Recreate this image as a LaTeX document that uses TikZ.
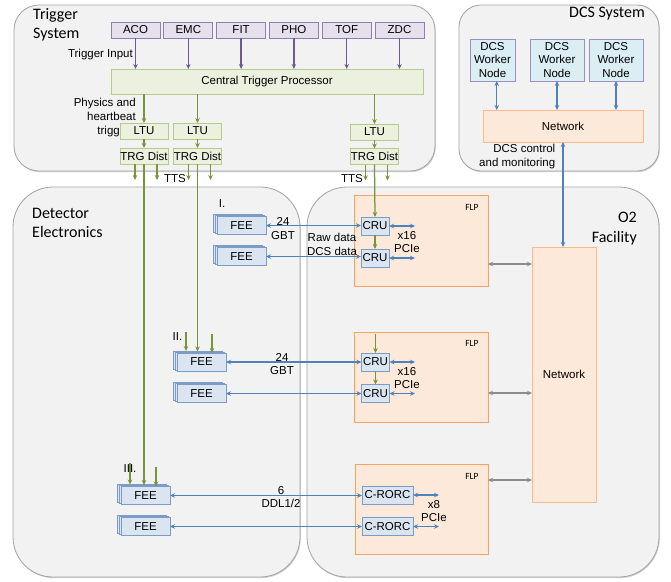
\documentclass[tikz,border=0pt]{standalone}
\usepackage{fontspec}
\setmainfont{Liberation Sans}
\newfontfamily\titlefont{Carlito}
\usetikzlibrary{arrows.meta,shadows,calc}

\definecolor{panelfill}{HTML}{F2F2F2}
\definecolor{panelline}{HTML}{A3A3A3}
\definecolor{inputfill}{HTML}{E5E0EC}
\definecolor{inputline}{HTML}{8F7DB5}
\definecolor{trigfill}{HTML}{EBF1DE}
\definecolor{trigline}{HTML}{B5CB8C}
\definecolor{wnfill}{HTML}{DBEEF4}
\definecolor{wnline}{HTML}{9A90C4}
\definecolor{orfill}{HTML}{FDE9D9}
\definecolor{orline}{HTML}{F5A263}
\definecolor{netline}{HTML}{F8BA8C}
\definecolor{cardfill}{HTML}{DBE5F1}
\definecolor{cardline}{HTML}{7C9CC8}
\definecolor{arrgreen}{HTML}{77933C}
\definecolor{arrblue}{HTML}{4F81BD}
\definecolor{arrpurple}{HTML}{6F5A90}
\definecolor{arrgray}{HTML}{8C8C8C}

\begin{document}
\begin{tikzpicture}[x=1pt,y=-1pt,
  font=\fontsize{11.5}{13.5}\selectfont,
  sz/.style 2 args={minimum width=#1pt,minimum height=#2pt},
  panel/.style={draw=panelline, fill=panelfill, line width=0.8pt,
    rounded corners=#1, inner sep=0pt, outer sep=0pt, anchor=north west,
    drop shadow={shadow xshift=0.8pt,shadow yshift=-1.2pt,opacity=0.3,fill=black!60}},
  boxbase/.style={draw, line width=0.8pt, inner sep=0pt, outer sep=0pt, align=center},
  inbox/.style={boxbase, draw=inputline, fill=inputfill, sz={49}{16}},
  trgbox/.style={boxbase, draw=trigline, fill=trigfill},
  wnbox/.style={boxbase, draw=wnline, fill=wnfill, font=\fontsize{11.5}{13.5}\selectfont},
  netbox/.style={boxbase, draw=netline, fill=orfill},
  flpbox/.style={boxbase, draw=orline, fill=orfill},
  cardbox/.style={boxbase, draw=cardline, fill=cardfill},
  feebox/.style={cardbox, sz={49}{18},
    double copy shadow={shadow xshift=-1.6pt,shadow yshift=1pt}},
  title/.style={font=\titlefont\fontsize{16}{19.5}\selectfont, inner sep=0pt},
  lbl/.style={inner sep=0pt, align=center},
  flplabel/.style={font=\titlefont\fontsize{9.5}{11}\selectfont, inner sep=0pt},
  garrow/.style={draw=arrgreen, line width=1.25pt, -{Stealth[length=5pt,width=4.5pt]}},
  parrow/.style={draw=arrpurple, line width=1.25pt, -{Stealth[length=5pt,width=4.5pt]}},
  barrow/.style={draw=arrblue, line width=1.25pt,
    {Stealth[length=5pt,width=4.5pt]}-{Stealth[length=5pt,width=4.5pt]}},
  grarrow/.style={draw=arrgray, line width=1.25pt,
    {Stealth[length=5pt,width=4.5pt]}-{Stealth[length=5pt,width=4.5pt]}},
]
\useasboundingbox (0,0) rectangle (671,581);

% ---------- panels ----------
\node[panel=25pt, sz={421}{166}] (trigsys) at (14,5) {};
\node[panel=22pt, sz={200}{166}] (dcssys) at (459,5) {};
\node[panel=40pt, sz={287}{390}] (detsys) at (13,187) {};
\node[panel=40pt, sz={352}{390}] (o2sys) at (307,187) {};

\node[title, anchor=north west, align=left] (trigtitle) at (33,8) {Trigger\\System};
\node[title, anchor=base east] (dcstitle) at (645,17) {DCS System};
\node[title, anchor=north west, align=left] (dettitle) at (32,208) {Detector\\Electronics};
\node[title, anchor=north east, align=right] (o2title) at (637,212) {O2\\Facility};

% ---------- trigger system ----------
\foreach \n/\t/\x in {aco/ACO/135.5, emc/EMC/188.3, fit/FIT/241.1,
                      pho/PHO/293.9, tof/TOF/346.7, zdc/ZDC/399.5}
  \node[inbox] (\n) at (\x,30) {\t};

\node[trgbox, sz={312}{25}] (ctp) at (267,81.5) {Central Trigger Processor};

\foreach \n in {aco,emc,fit,pho,tof,zdc}
  \draw[parrow] (\n.south) -- (\n.south |- ctp.north);

\node[lbl, anchor=base east] (trigin) at (133,57) {Trigger Input};
\node[lbl, anchor=north east, align=right, font=\fontsize{11.5}{14}\selectfont]
  (physlbl) at (136,97.5) {Physics and\\heartbeat\\triggers};

\node[trgbox, sz={48}{16}] (ltu1) at (144,131) {LTU};
\node[trgbox, sz={48}{16}] (ltu2) at (197.5,131) {LTU};
\node[trgbox, sz={48}{16}] (ltu3) at (374.5,132) {LTU};
\node[trgbox, sz={48}{16}] (trg1) at (144,156) {TRG Dist};
\node[trgbox, sz={48}{16}] (trg2) at (197.5,156) {TRG Dist};
\node[trgbox, sz={48}{16}] (trg3) at (374.5,156.5) {TRG Dist};

\foreach \i in {1,2,3} {
  \draw[garrow] (ctp.south -| ltu\i.north) -- (ltu\i.north);
  \draw[garrow] (ltu\i.south) -- (trg\i.north);
  \draw[garrow] ([xshift=-9pt]trg\i.south) -- ++(0,16);
  \draw[garrow] ([xshift=13pt]trg\i.south) -- ++(0,16);
}
\node[lbl] (tts1) at (175,179) {TTS};
\node[lbl] (tts2) at (352,179) {TTS};

% ---------- DCS system ----------
\node[wnbox, sz={45}{42}] (wn1) at (492.5,60) {DCS\\Worker\\Node};
\node[wnbox, sz={54}{42}] (wn2) at (557,60) {DCS\\Worker\\Node};
\node[wnbox, sz={54}{42}] (wn3) at (616,60) {DCS\\Worker\\Node};
\node[netbox, sz={160}{32}] (dcsnet) at (563,126) {Network};

\draw[barrow] ([xshift=4.2pt]wn1.south) -- ([xshift=4.2pt]wn1.south |- dcsnet.north);
\draw[barrow] (wn2.south) -- (wn2.south |- dcsnet.north);
\draw[barrow] (wn3.south) -- (wn3.south |- dcsnet.north);

\node[lbl, anchor=north east, align=right, font=\fontsize{11.5}{14}\selectfont]
  (dcsctl) at (555.5,144) {DCS control\\and monitoring};

% ---------- O2 facility ----------
\node[flpbox, sz={134}{91}] (flp1) at (421,240.5) {};
\node[flpbox, sz={134}{90}] (flp2) at (421,377) {};
\node[flpbox, sz={133}{90}] (flp3) at (421.5,509) {};
\node[flplabel] (flpl1) at (472,207) {FLP};
\node[flplabel] (flpl2) at (472,343) {FLP};
\node[flplabel] (flpl3) at (472,476) {FLP};

\node[netbox, sz={64}{255}] (onet) at (564,374.5) {Network};

\node[cardbox, sz={28}{18}] (cru1) at (375,226) {CRU};
\node[cardbox, sz={28}{18}] (cru2) at (375,258) {CRU};
\node[cardbox, sz={28}{18}] (cru3) at (375.5,362) {CRU};
\node[cardbox, sz={28}{18}] (cru4) at (375.5,393.5) {CRU};
\node[cardbox, sz={51}{18}] (rorc1) at (387.5,495) {C-RORC};
\node[cardbox, sz={51}{18}] (rorc2) at (387.5,526.5) {C-RORC};

\coordinate (pcieend) at (415,0);
\coordinate (rorcend) at (439,0);
\foreach \n in {cru1,cru2,cru3,cru4}
  \draw[barrow] (\n.east) -- (\n.east -| pcieend);
\foreach \n in {rorc1,rorc2}
  \draw[barrow] (\n.east) -- (\n.east -| rorcend);

\node[lbl] (pcie1) at (407,242) {x16\\PCIe};
\node[lbl] (pcie2) at (407,378) {x16\\PCIe};
\node[lbl] (pcie3) at (434,511) {x8\\PCIe};

\draw[grarrow] ([yshift=-23.5pt]flp1.east) -- ([yshift=-23.5pt]flp1.east -| onet.west);
\draw[grarrow] ([yshift=-16pt]flp2.east) -- ([yshift=-16pt]flp2.east -| onet.west);
\draw[grarrow] ([yshift=29pt]flp3.east) -- ([yshift=29pt]flp3.east -| onet.west);

\draw[barrow] (dcsnet.south) -- (dcsnet.south |- onet.north);

% ---------- detector electronics ----------
\node[feebox] (fee1a) at (241.5,225.5) {FEE};
\node[feebox] (fee1b) at (241.5,256.5) {FEE};
\node[feebox] (fee2a) at (201.5,362) {FEE};
\node[feebox] (fee2b) at (201.5,393.5) {FEE};
\node[feebox] (fee3a) at (145.5,495.5) {FEE};
\node[feebox] (fee3b) at (145.5,526.5) {FEE};

\node[lbl] (grp1) at (222,204) {I.};
\node[lbl] (grp2) at (177.5,336.5) {II.};
\node[lbl] (grp3) at (130,469) {III.};

\draw[barrow] (fee1a.east) -- (fee1a.east -| cru1.west);
\draw[barrow] (fee1b.east) -- (fee1b.east -| cru2.west);
\draw[barrow] (fee2a.east) -- (fee2a.east -| cru3.west);
\draw[barrow] (fee2b.east) -- (fee2b.east -| cru4.west);
\draw[barrow] (fee3a.east) -- (fee3a.east -| rorc1.west);
\draw[barrow] (fee3b.east) -- (fee3b.east -| rorc2.west);

\node[lbl] (link1) at (283,228.5) {24\\GBT};
\node[lbl] (link2) at (282,364) {24\\GBT};
\node[lbl] (link3) at (281,497) {6\\DDL1/2};
\node[lbl, font=\fontsize{11.5}{14}\selectfont] (rawlbl) at (332,244) {Raw data\\DCS data};

% ---------- trigger distribution to readout ----------
\draw[garrow] (trg3.south) -- (cru1.north);
\draw[garrow] (cru1.south) -- (cru2.north);
\draw[garrow] ([yshift=19pt]cru3.north) -- (cru3.north);
\draw[garrow] (cru3.south) -- (cru4.north);

\draw[garrow] (trg2.south) -- ([yshift=1.5pt]trg2.south |- fee2a.north);
\draw[garrow] ([xshift=-15.5pt,yshift=21pt]fee2a.north) -- ([xshift=-15.5pt,yshift=2pt]fee2a.north);
\draw[garrow] ([xshift=10.5pt,yshift=19pt]fee2a.north) -- ([xshift=10.5pt]fee2a.north);

\draw[garrow] (trg1.south) -- ([yshift=1.5pt]trg1.south |- fee3a.north);
\draw[garrow] ([xshift=-15.5pt,yshift=24pt]fee3a.north) -- ([xshift=-15.5pt,yshift=2pt]fee3a.north);
\draw[garrow] ([xshift=10.5pt,yshift=20pt]fee3a.north) -- ([xshift=10.5pt]fee3a.north);
\end{tikzpicture}
\end{document}
